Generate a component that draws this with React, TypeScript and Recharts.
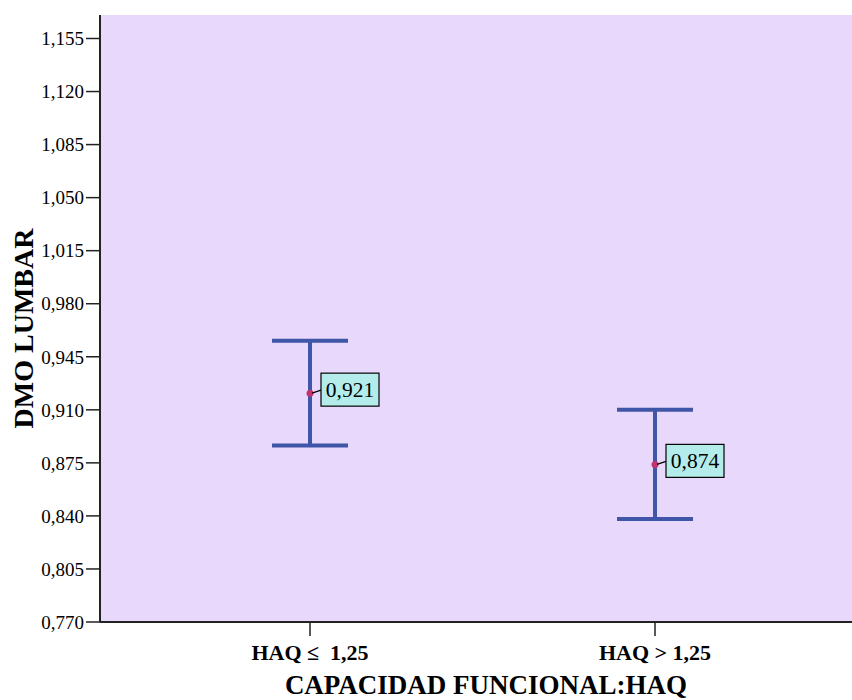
import { ComposedChart, Scatter, ErrorBar, XAxis, YAxis, CartesianGrid } from "recharts";

const categories = ["HAQ \u2264\u00a0 1,25", "HAQ > 1,25"];
const groupX = [1, 2];
const means = [0.921, 0.874];
const lower = [0.8865, 0.838];
const upper = [0.9555, 0.91];
const yTicks = [0.77, 0.805, 0.84, 0.875, 0.91, 0.945, 0.98, 1.015, 1.05, 1.085, 1.12, 1.155];

const data = groupX.map((x, i) => ({
  x,
  mean: means[i],
  err: [means[i] - lower[i], upper[i] - means[i]],
}));

const serif = "'Liberation Serif', 'Times New Roman', serif";
const barColor = "#3f55a8";
const fmt = (v: number) => v.toFixed(3).replace(".", ",");

function MeanPoint(props: any) {
  const { cx, cy, payload } = props;
  if (cx == null || cy == null) return null;
  const bx = cx + 11;
  const by = cy - 20;
  return (
    <g>
      <circle cx={cx} cy={cy} r={3.5} fill="#c2356f" />
      <line x1={cx + 2} y1={cy} x2={bx} y2={cy - 3} stroke="#000" strokeWidth={1.2} />
      <rect x={bx} y={by} width={58} height={33} fill="#b4eceb" stroke="#000" strokeWidth={1.2} />
      <text x={bx + 29} y={by + 24} textAnchor="middle" fontSize={21.5} fontFamily={serif} fill="#000">
        {fmt(payload.mean)}
      </text>
    </g>
  );
}

function XTitle(props: any) {
  const { viewBox } = props;
  return (
    <text
      x={viewBox.x + viewBox.width / 2 + 10}
      y={694}
      textAnchor="middle"
      fontSize={27}
      fontWeight="bold"
      fontFamily={serif}
      fill="#000"
    >
      CAPACIDAD FUNCIONAL:HAQ
    </text>
  );
}

function YTitle(props: any) {
  const { viewBox } = props;
  const cy = viewBox.y + viewBox.height / 2 + 10;
  return (
    <text
      x={33}
      y={cy}
      transform={`rotate(-90, 33, ${cy})`}
      textAnchor="middle"
      fontSize={28}
      fontWeight="bold"
      fontFamily={serif}
      fill="#000"
    >
      DMO LUMBAR
    </text>
  );
}

export default function App() {
  return (
    <div style={{ position: "absolute", left: 0, top: 0, width: 852, height: 700, background: "#fff" }}>
      <ComposedChart width={852} height={700} data={data} margin={{ top: 15, right: 0, bottom: 0, left: 0 }}>
        <CartesianGrid fill="#e8d8fc" horizontal={false} vertical={false} />
        <XAxis
          dataKey="x"
          type="number"
          domain={[0.3913, 2.571]}
          ticks={groupX}
          tickFormatter={(v: number) => categories[v - 1]}
          allowDataOverflow
          height={78}
          tickSize={14}
          tickMargin={8}
          axisLine={{ stroke: "#222", strokeWidth: 2 }}
          tickLine={{ stroke: "#222", strokeWidth: 1.5 }}
          tick={{ fontSize: 22, fontWeight: "bold", fontFamily: serif, fill: "#000" }}
          label={<XTitle />}
        />
        <XAxis
          xAxisId="top"
          orientation="top"
          type="number"
          domain={[0, 1]}
          height={0}
          tick={false}
          tickLine={false}
          axisLine={{ stroke: "#222", strokeWidth: 2 }}
        />
        <YAxis
          dataKey="mean"
          type="number"
          domain={[0.77, 1.1705]}
          ticks={yTicks}
          allowDataOverflow
          interval={0}
          width={100}
          tickSize={14}
          tickMargin={2}
          tickFormatter={fmt}
          axisLine={{ stroke: "#222", strokeWidth: 2 }}
          tickLine={{ stroke: "#222", strokeWidth: 1.5 }}
          tick={{ fontSize: 19, fontFamily: serif, fill: "#000" }}
          label={<YTitle />}
        />
        <Scatter dataKey="mean" isAnimationActive={false} shape={<MeanPoint />}>
          <ErrorBar dataKey="err" direction="y" width={38} stroke={barColor} strokeWidth={4} />
        </Scatter>
      </ComposedChart>
    </div>
  );
}
